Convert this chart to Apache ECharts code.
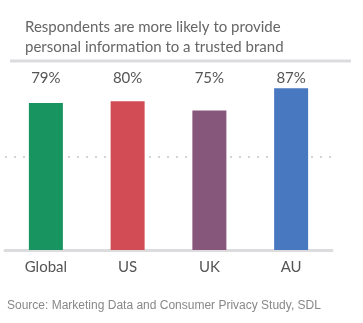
<!DOCTYPE html>
<html>
<head>
<meta charset="utf-8">
<script src="https://cdn.jsdelivr.net/npm/echarts@6/dist/echarts.min.js"></script>
<style>html,body{margin:0;padding:0;background:#fff}#c{width:363px;height:323px}</style>
</head>
<body>
<div id="c"></div>
<script>
const categories = ['Global', 'US', 'UK', 'AU'];
const values = [79, 80, 75, 87];
const valueLabels = ['79%', '80%', '75%', '87%'];
const yTicks = [0, 50, 100];

const palette = ['#17945f', '#d24c55', '#86577b', '#4879c0'];
const FONT = 'Lato';

const chart = echarts.init(document.getElementById('c'), null, {renderer: 'canvas'});
chart.setOption({
  animation: false,
  title: {
    text: 'Respondents are more likely to provide\npersonal information to a trusted brand',
    left: 20, top: 12,
    textStyle: {fontFamily: FONT, fontSize: 15, fontWeight: 'normal', color: '#666', lineHeight: 20}
  },
  grid: {left: 5, width: 327, top: 64, height: 186},
  xAxis: [{
    type: 'category', data: categories, position: 'bottom',
    axisLine: {show: true, lineStyle: {color: '#dcdcdf', width: 3}},
    axisTick: {show: false},
    axisLabel: {fontFamily: FONT, fontSize: 15, color: '#555', margin: 10}
  }, {
    type: 'category', data: valueLabels, position: 'top',
    axisLine: {show: false}, axisTick: {show: false},
    axisLabel: {inside: true, margin: 7, verticalAlign: 'top', fontFamily: FONT, fontSize: 15, color: '#555'}
  }],
  yAxis: {
    type: 'value', min: yTicks[0], max: yTicks[2], interval: 50,
    axisLabel: {show: false}, axisLine: {show: false}, axisTick: {show: false},
    splitLine: {show: true, lineStyle: {color: ['transparent', '#d4d4d4', 'transparent'], width: 2, type: [2, 7]}}
  },
  graphic: [{
    type: 'line', shape: {x1: 10, y1: 61, x2: 351, y2: 61},
    style: {stroke: '#dcdcdf', lineWidth: 3}
  }, {
    type: 'text', left: 7, top: 300,
    style: {text: 'Source: Marketing Data and Consumer Privacy Study, SDL', fill: '#888', font: '12px "Liberation Sans", Arial, sans-serif'}
  }],
  series: [{
    type: 'bar', data: values.map((v, i) => ({value: v, itemStyle: {color: palette[i]}})),
    barWidth: 34, z: 3
  }]
});
</script>
</body>
</html>
